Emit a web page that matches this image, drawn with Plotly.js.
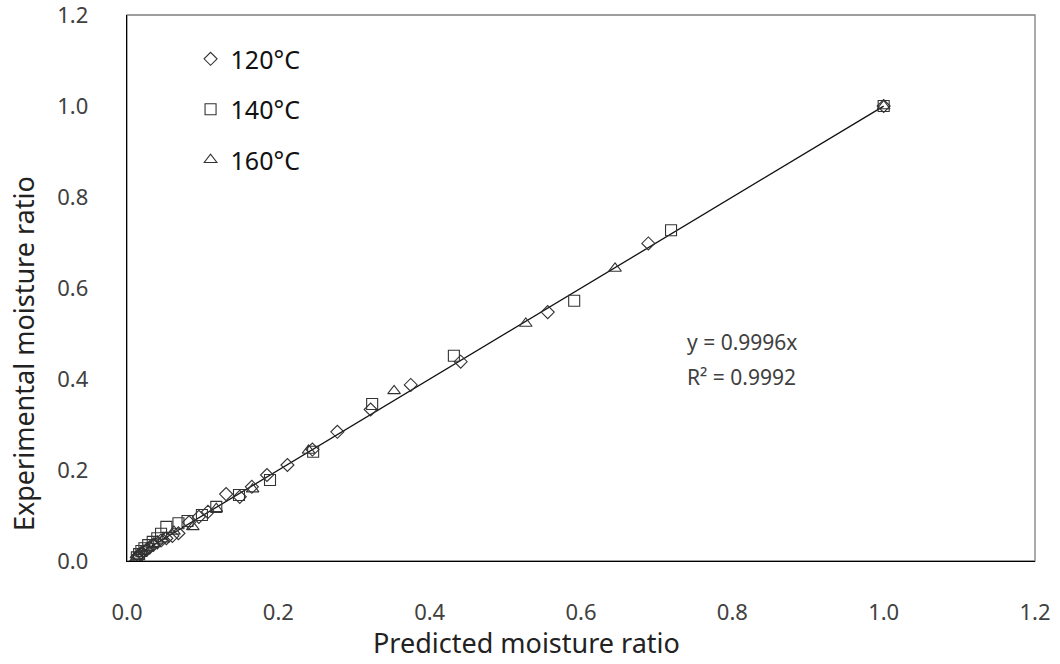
<!DOCTYPE html>
<html>
<head>
<meta charset="utf-8">
<script src="https://cdn.plot.ly/plotly-3.0.1.min.js"></script>
<style>
  html, body { margin: 0; padding: 0; background: #fff; }
  #chart { width: 1060px; height: 664px; }
</style>
</head>
<body>
<div id="chart"></div>
<script>
// 120 °C (diamonds): predicted vs experimental moisture ratio
const pred120 = [1.0, 0.689, 0.556, 0.441, 0.375, 0.322, 0.278, 0.245, 0.212, 0.185, 0.165, 0.131, 0.149, 0.107, 0.095, 0.082, 0.068, 0.060, 0.052, 0.045, 0.040, 0.035, 0.030, 0.026, 0.022, 0.018, 0.015, 0.013];
const exp120  = [1.0, 0.698, 0.547, 0.438, 0.387, 0.333, 0.284, 0.245, 0.211, 0.189, 0.163, 0.147, 0.141, 0.108, 0.097, 0.085, 0.061, 0.055, 0.050, 0.045, 0.041, 0.036, 0.030, 0.025, 0.021, 0.017, 0.012, 0.008];

// 140 °C (squares)
const pred140 = [1.0, 0.719, 0.591, 0.432, 0.324, 0.246, 0.189, 0.148, 0.118, 0.099, 0.080, 0.068, 0.052, 0.045, 0.040, 0.034, 0.028, 0.023, 0.019, 0.016, 0.013];
const exp140  = [1.0, 0.727, 0.572, 0.451, 0.345, 0.240, 0.178, 0.145, 0.119, 0.101, 0.088, 0.083, 0.075, 0.060, 0.050, 0.042, 0.035, 0.028, 0.022, 0.015, 0.008];

// 160 °C (triangles)
const pred160 = [1.0, 0.645, 0.527, 0.353, 0.240, 0.166, 0.118, 0.087, 0.062, 0.048, 0.036, 0.027, 0.020, 0.015, 0.012];
const exp160  = [1.0, 0.643, 0.522, 0.374, 0.243, 0.158, 0.115, 0.075, 0.065, 0.048, 0.038, 0.028, 0.020, 0.012, 0.006];

// Linear fit y = 0.9996x
const fitSlope = 0.9996;
const fitX = [0.012, 1.0];
const fitY = fitX.map(v => v * fitSlope);

const seriesNames = ['120°C', '140°C', '160°C'];
const tickVals = [0, 0.2, 0.4, 0.6, 0.8, 1.0, 1.2];
const tickText = ['0.0', '0.2', '0.4', '0.6', '0.8', '1.0', '1.2'];
const xTitle = 'Predicted moisture ratio';
const yTitle = 'Experimental moisture ratio';

const markerLine = {color: '#333333', width: 1.1};
const traces = [
  {x: fitX, y: fitY, mode: 'lines', line: {color: '#111111', width: 1.3}, showlegend: false, hoverinfo: 'skip'},
  {x: pred120, y: exp120, mode: 'markers', name: seriesNames[0], legendgroup: 'a',
   marker: {symbol: 'diamond-open', size: 10, color: '#333333', line: markerLine}},
  {x: pred140, y: exp140, mode: 'markers', name: seriesNames[1], legendgroup: 'b',
   marker: {symbol: 'square-open', size: 11, color: '#333333', line: markerLine}},
  {x: pred160, y: exp160, mode: 'markers', name: seriesNames[2], legendgroup: 'c',
   marker: {symbol: 'triangle-up-open', size: 11, color: '#333333', line: markerLine}}
];

const fam = 'Noto Sans, Open Sans, sans-serif';
const tickFont = {family: fam, size: 22, color: '#404040'};
const titleFont = {family: fam, size: 27, color: '#222222'};

const layout = {
  width: 1060, height: 664,
  margin: {l: 127, r: 25, t: 15, b: 103},
  paper_bgcolor: '#ffffff', plot_bgcolor: '#ffffff',
  showlegend: true,
  legend: {
    x: 0.07, y: 0.9615, xanchor: 'left', yanchor: 'top',
    bgcolor: 'rgba(0,0,0,0)', borderwidth: 0,
    traceorder: 'grouped', tracegroupgap: 15,
    font: {family: fam, size: 25, color: '#111111'}
  },
  xaxis: {
    range: [0, 1.2], tickvals: tickVals, ticktext: tickText,
    showgrid: false, zeroline: false, showline: true, linecolor: '#000000', linewidth: 1.3,
    ticks: '', tickfont: tickFont, ticklabelstandoff: 31, automargin: false, ticklabeloverflow: 'allow'
  },
  yaxis: {
    range: [0, 1.2], tickvals: tickVals, ticktext: tickText,
    showgrid: false, zeroline: false, showline: true, linecolor: '#000000', linewidth: 1.3,
    ticks: '', tickfont: tickFont, ticklabelstandoff: 33, automargin: false, ticklabeloverflow: 'allow'
  },
  shapes: [
    {type: 'rect', xref: 'paper', yref: 'paper', x0: 0, x1: 1, y0: 0, y1: 1,
     line: {color: '#7f7f7f', width: 1.3}, layer: 'below'}
  ],
  annotations: [
    {x: 0.4405, y: -0.150, xref: 'paper', yref: 'paper', xanchor: 'center', yanchor: 'middle', showarrow: false,
     text: xTitle, font: titleFont},
    {x: -0.1145, y: 0.379, xref: 'paper', yref: 'paper', xanchor: 'center', yanchor: 'middle', showarrow: false,
     textangle: -90, text: yTitle, font: titleFont},
    {x: 0.738, y: 0.482, xref: 'x', yref: 'y', xanchor: 'left', yanchor: 'middle', showarrow: false,
     text: 'y = 0.9996x', font: {family: fam, size: 21, color: '#404040'}},
    {x: 0.738, y: 0.405, xref: 'x', yref: 'y', xanchor: 'left', yanchor: 'middle', showarrow: false,
     text: 'R² = 0.9992', font: {family: fam, size: 21, color: '#404040'}}
  ]
};

Plotly.newPlot('chart', traces, layout, {displayModeBar: false, staticPlot: true});
</script>
</body>
</html>
